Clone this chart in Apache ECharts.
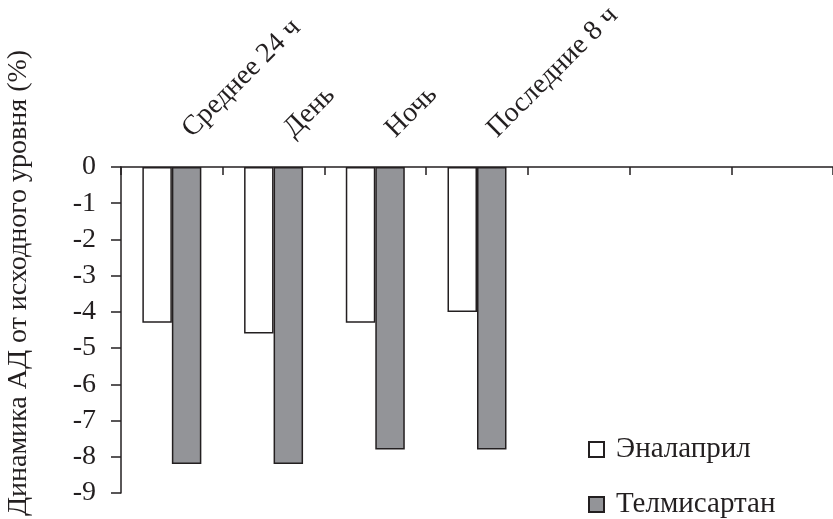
<!DOCTYPE html>
<html>
<head>
<meta charset="utf-8">
<script src="https://cdn.jsdelivr.net/npm/echarts@6/dist/echarts.min.js"></script>
<style>
  html, body { margin: 0; padding: 0; background: #fff; }
  #chart { width: 833px; height: 519px; }
</style>
</head>
<body>
<div id="chart"></div>
<script>
// Периоды суточного мониторинга АД (три последние позиции оси пустые)
const categories = ['Среднее 24 ч', 'День', 'Ночь', 'Последние 8 ч', '', '', ''];
// Снижение АД от исходного уровня, %
const enalapril = [-4.3, -4.6, -4.3, -4.0];
const telmisartan = [-8.2, -8.2, -7.8, -7.8];
const seriesNames = ['Эналаприл', 'Телмисартан'];
const yMin = -9, yMax = 0, yStep = 1;
const yTitle = 'Динамика АД от исходного уровня (%)';

const ink = '#231f20';
const font = '"Liberation Serif", "Times New Roman", serif';

// One legend block per series, stacked in the lower right corner
function legendBlock(name, top) {
  return {
    orient: 'vertical',
    left: 583,
    top: top,
    itemWidth: 15,
    itemHeight: 15,
    icon: 'rect',
    textStyle: { fontFamily: font, fontSize: 29, color: ink, padding: [0, 0, 0, 7] },
    data: [name]
  };
}

const chart = echarts.init(document.getElementById('chart'), null, { renderer: 'canvas' });
chart.setOption({
  animation: false,
  backgroundColor: '#fff',
  textStyle: { fontFamily: font, color: ink },
  grid: { left: 121, right: 0, top: 167, bottom: 26, containLabel: false, outerBoundsMode: 'none' },
  legend: [legendBlock(seriesNames[0], 430), legendBlock(seriesNames[1], 485)],
  xAxis: {
    type: 'category',
    position: 'top',
    data: categories,
    axisLine: { show: true, lineStyle: { color: ink, width: 1.5 } },
    axisTick: { show: true, inside: true, length: 8, interval: 0, lineStyle: { color: ink, width: 1.5 } },
    axisLabel: {
      interval: 0,
      rotate: 45,
      margin: 19,
      padding: [0, 0, 0, 21],
      fontFamily: font,
      fontSize: 28,
      color: ink
    },
    splitLine: { show: false }
  },
  yAxis: {
    type: 'value',
    min: yMin,
    max: yMax,
    interval: yStep,
    name: yTitle,
    nameLocation: 'middle',
    nameRotate: 90,
    nameGap: 88,
    nameTextStyle: { fontFamily: font, fontSize: 28, color: ink, padding: [0, 0, 0, 94] },
    axisLine: { show: true, lineStyle: { color: ink, width: 1.5 } },
    axisTick: { show: true, inside: false, length: 10, lineStyle: { color: ink, width: 1.5 } },
    axisLabel: { margin: 25, fontFamily: font, fontSize: 28, color: ink },
    splitLine: { show: false }
  },
  series: [
    {
      name: seriesNames[0],
      type: 'bar',
      data: enalapril,
      barGap: '0%',
      barCategoryGap: '42%',
      itemStyle: { color: '#ffffff', borderColor: ink, borderWidth: 1.5 }
    },
    {
      name: seriesNames[1],
      type: 'bar',
      data: telmisartan,
      itemStyle: { color: '#939498', borderColor: ink, borderWidth: 1.5 }
    }
  ]
});
</script>
</body>
</html>
